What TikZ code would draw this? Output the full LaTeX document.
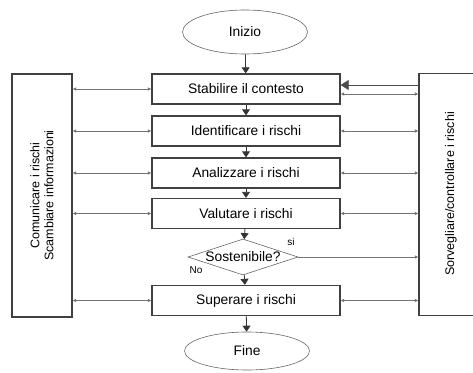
\documentclass[tikz,border=0pt]{standalone}
\usepackage{fontspec}
\setmainfont{Liberation Sans}
\usetikzlibrary{shapes.geometric}
\usetikzlibrary{arrows.meta}
\tikzset{x=1pt, y=-1pt,
every node/.style={ % Sets the text for every node
font=\fontsize{13.8}{15}\selectfont},
step box/.style={ % Sets the properties for each step of the process
draw=black!75, line width=1.3pt,
minimum width=188pt, minimum height=30pt},
side box/.style={
draw=black!75, line width=1.3pt},
side text/.style={rotate=90, align=center,
font=\fontsize{12.5}{14}\selectfont},
term/.style={ % Start and end ovals
ellipse, draw=black!60, semithick},
flow/.style={ % Main arrows between the steps
draw=black!80, line width=0.8pt,
-{Triangle[length=6pt,width=8pt]}},
link/.style={ % Exchange arrows to the side boxes
draw=black!55, line width=0.7pt,
{Latex[length=3.5pt,width=3.5pt]}-{Latex[length=3.5pt,width=3.5pt]}},
tag/.style={font=\fontsize{10}{11}\selectfont}}

\begin{document}
\begin{tikzpicture}
	\clip (0,0) rectangle (473,372);
	% terminals
	\node[term, minimum width=125pt, minimum height=44pt] (inizio) at (245,32) {Inizio};
	\node[term, minimum width=125pt, minimum height=38pt] (fine) at (247,351) {Fine};
	% steps
	\node[step box] (stabilire) at (246,89) {Stabilire il contesto};
	\node[step box] (identificare) at (246,131) {Identificare i rischi};
	\node[step box] (analizzare) at (246,173) {Analizzare i rischi};
	\node[step box] (valutare) at (246,213.5) {Valutare i rischi};
	\node[diamond, draw=black!60, semithick, aspect=3, minimum width=110pt, minimum height=36pt, inner sep=0pt] (sostenibile) at (243,257) {Sostenibile?};
	\node[step box] (superare) at (246,300.5) {Superare i rischi};
	% side boxes
	\node[side box, minimum width=60pt, minimum height=243pt] (comunicare) at (42,195.5) {};
	\node[side text] at (comunicare.center) {Comunicare i rischi\\Scambiare informazioni};
	\node[side box, minimum width=90pt, minimum height=242pt] (sorvegliare) at (464,194.5) {};
	\node[side text] at (451,194) {Sorvegliare/controllare i rischi};
	% main flow
	\draw[flow] (inizio) -- (stabilire);
	\draw[flow] (stabilire) -- (identificare);
	\draw[flow] (identificare) -- (analizzare);
	\draw[flow] (analizzare) -- (valutare);
	\draw[flow] (valutare) -- (sostenibile);
	\draw[flow] (sostenibile) -- (superare);
	\draw[flow] (superare) -- (fine);
	\node[tag] at (291,242) {si};
	\node[tag] at (196,270) {No};
	% exchanges with the side boxes
	\foreach \s in {stabilire, identificare, analizzare, valutare, superare}
		\draw[link] (comunicare.east |- \s.west) -- (\s.west);
	\foreach \s in {identificare, analizzare, valutare, superare}
		\draw[link] (\s.east) -- (sorvegliare.west |- \s.east);
	\draw[link] ([yshift=-5pt]stabilire.east) -- ([yshift=-5pt]sorvegliare.west |- stabilire.east);
	\draw[draw=black!70, line width=0.8pt, -{Triangle[length=8pt,width=10pt]}] ([yshift=4pt]sorvegliare.west |- stabilire.east) -- ([yshift=4pt]stabilire.east);
	\draw[draw=black!55, line width=0.7pt, -{Latex[length=3.5pt,width=3.5pt]}] (sostenibile.east) -- (sorvegliare.west |- sostenibile.east);
\end{tikzpicture}
\end{document}
